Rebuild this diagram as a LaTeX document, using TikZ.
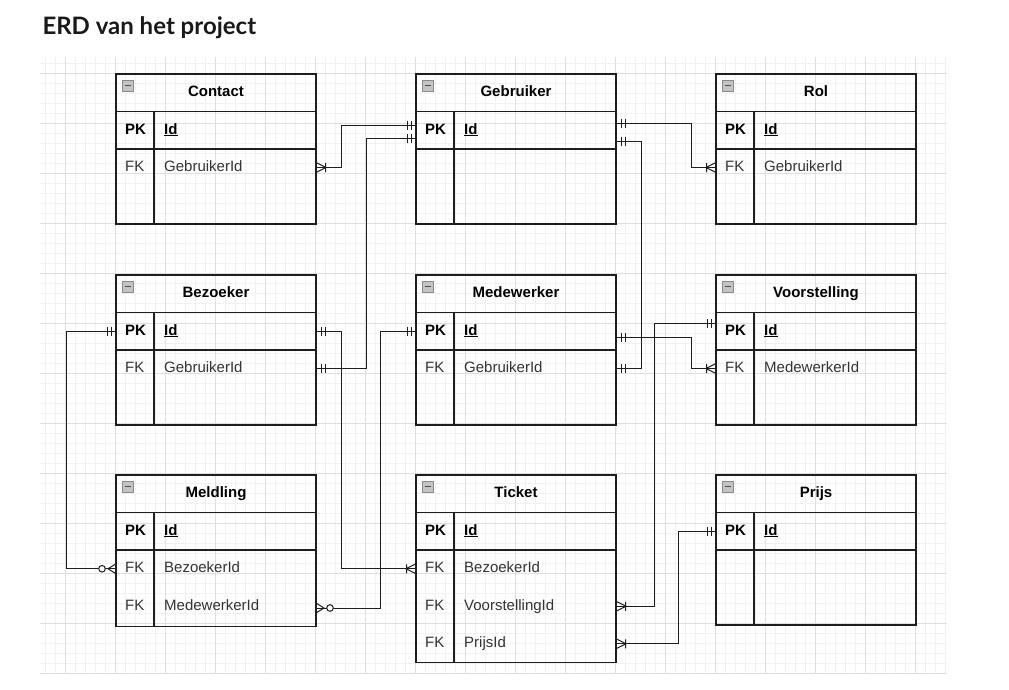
\documentclass[tikz,border=0pt]{standalone}
\usepackage{fontspec}
\setmainfont{Liberation Sans}
\newfontfamily\latofont{Lato}
\usetikzlibrary{calc}
\definecolor{gridminor}{HTML}{F1F1F1}
\definecolor{gridmajor}{HTML}{DEDEDE}
\definecolor{ink}{HTML}{1E1E1E}
\definecolor{txt}{HTML}{333333}
\definecolor{iconfill}{HTML}{C4C4C4}
\definecolor{iconline}{HTML}{8A8A8A}

\newcommand\ErdTable[5]{%
  \node[tbl, minimum height=#5pt, anchor=north west] (#1) at (#2,#3) {};
  \draw[tblline] ($(#1.north west)+(0,37.5)$) -- ($(#1.north east)+(0,37.5)$);
  \draw[tblline] ($(#1.north west)+(0,75)$) -- ($(#1.north east)+(0,75)$);
  \draw[tblline] ($(#1.north west)+(38,37.5)$) -- ($(#1.south west)+(38,0)$);
  \node[hdr] (#1-title) at ($(#1.north)+(0,22.7)$) {#4};
  \draw[iconbox] ($(#1.north west)+(6.5,6.7)$) rectangle +(10.5,10.5);
  \draw[icondash] ($(#1.north west)+(8.5,11.95)$) -- +(6.5,0);
}
\newcommand\ErdPK[1]{%
  \node[pkt] (#1-pk) at ($(#1.north west)+(9,60)$) {PK};
  \node[pkt] (#1-id) at ($(#1.north west)+(48,60)$) {\underline{Id}};
}
\newcommand\ErdFK[3]{%
  \node[fkt] (#1-fk#2) at ($(#1.north west)+(9,{60+37.5*#2})$) {FK};
  \node[fkt] (#1-f#2) at ($(#1.north west)+(48,{60+37.5*#2})$) {#3};
}

\begin{document}
\begin{tikzpicture}[x=1pt,y=-1pt,
  tbl/.style={draw=ink, line width=1.2pt, minimum width=200pt, inner sep=0pt, outer sep=0pt},
  tblline/.style={draw=ink, line width=1.2pt},
  hdr/.style={font=\fontsize{15}{18}\selectfont\bfseries, text=black, anchor=base, inner sep=0pt},
  pkt/.style={font=\fontsize{15}{18}\selectfont\bfseries, text=black, anchor=base west, inner sep=0pt},
  fkt/.style={font=\fontsize{15}{18}\selectfont, text=txt, anchor=base west, inner sep=0pt},
  iconbox/.style={draw=iconline, fill=iconfill, line width=0.8pt},
  icondash/.style={draw=black!70, line width=1pt},
  conn/.style={draw=ink, line width=1pt},
  mone/.pic={\draw[conn] (-5,-4.5) -- (-5,4.5) (-9,-4.5) -- (-9,4.5);},
  omany/.pic={\draw[conn] (0,-5) -- (-10,0) -- (0,5) (-9.5,-4.5) -- (-9.5,4.5);},
  zmany/.pic={\draw[conn] (0,-5) -- (-8,0) -- (0,5); \draw[conn, fill=white] (-14,0) circle (3.3);}
]
\useasboundingbox (0,0) rectangle (1009,689);
\fill[white] (0,0) rectangle (1009,689);

% grid
\begin{scope}
  \clip (40,57) rectangle (946.5,674);
  \foreach \i in {0,...,90} \draw[gridminor, line width=1pt] ({45.7+10*\i},57) -- ++(0,617);
  \foreach \j in {0,...,61} \draw[gridminor, line width=1pt] (40,{63.3+10*\j}) -- ++(907,0);
  \foreach \i in {0,...,17} \draw[gridmajor, line width=1pt] ({65.7+50*\i},57) -- ++(0,617);
  \foreach \j in {0,...,12} \draw[gridmajor, line width=1pt] (40,{73.3+50*\j}) -- ++(907,0);
\end{scope}

% title
\node[anchor=base west, inner sep=0pt, text=black!90, font=\latofont\bfseries\fontsize{24}{28}\selectfont] (title) at (42.3,34.3) {ERD van het project};

% tables
\ErdTable{contact}{116}{74}{Contact}{150}
\ErdPK{contact}\ErdFK{contact}{1}{GebruikerId}
\ErdTable{gebruiker}{416}{74}{Gebruiker}{150}
\ErdPK{gebruiker}
\ErdTable{rol}{716}{74}{Rol}{150}
\ErdPK{rol}\ErdFK{rol}{1}{GebruikerId}
\ErdTable{bezoeker}{116}{275}{Bezoeker}{150}
\ErdPK{bezoeker}\ErdFK{bezoeker}{1}{GebruikerId}
\ErdTable{medewerker}{416}{275}{Medewerker}{150}
\ErdPK{medewerker}\ErdFK{medewerker}{1}{GebruikerId}
\ErdTable{voorstelling}{716}{275}{Voorstelling}{150}
\ErdPK{voorstelling}\ErdFK{voorstelling}{1}{MedewerkerId}
\ErdTable{meldling}{116}{475}{Meldling}{151.5}
\ErdPK{meldling}\ErdFK{meldling}{1}{BezoekerId}\ErdFK{meldling}{2}{MedewerkerId}
\ErdTable{ticket}{416}{475}{Ticket}{187.5}
\ErdPK{ticket}\ErdFK{ticket}{1}{BezoekerId}\ErdFK{ticket}{2}{VoorstellingId}\ErdFK{ticket}{3}{PrijsId}
\ErdTable{prijs}{716}{475}{Prijs}{150}
\ErdPK{prijs}

% ports
\coordinate (c1a) at ($(contact.north east)+(0,93.5)$);
\coordinate (c1b) at ($(gebruiker.north west)+(0,51)$);
\coordinate (c2a) at ($(bezoeker.north east)+(0,93.5)$);
\coordinate (c2b) at ($(gebruiker.north west)+(0,64)$);
\coordinate (c3a) at ($(gebruiker.north east)+(0,49)$);
\coordinate (c3b) at ($(rol.north west)+(0,93.5)$);
\coordinate (c4a) at ($(gebruiker.north east)+(0,67)$);
\coordinate (c4b) at ($(medewerker.north east)+(0,93.5)$);
\coordinate (c5a) at ($(medewerker.north east)+(0,62.7)$);
\coordinate (c5b) at ($(voorstelling.north west)+(0,93.5)$);
\coordinate (c6a) at ($(voorstelling.north west)+(0,48.3)$);
\coordinate (c6b) at ($(ticket.north east)+(0,131.25)$);
\coordinate (c7a) at ($(prijs.north west)+(0,56)$);
\coordinate (c7b) at ($(ticket.north east)+(0,168.75)$);
\coordinate (c8a) at ($(bezoeker.north west)+(0,56)$);
\coordinate (c8b) at ($(meldling.north west)+(0,93.75)$);
\coordinate (c9a) at ($(bezoeker.north east)+(0,56)$);
\coordinate (c9b) at ($(ticket.north west)+(0,93.75)$);
\coordinate (c10a) at ($(medewerker.north west)+(0,56)$);
\coordinate (c10b) at ($(meldling.north east)+(0,133)$);

% connectors
\draw[conn] (c1a) -- ++(25.7,0) |- (c1b);
\draw[conn] (c2a) -- ++(50.7,0) |- (c2b);
\draw[conn] (c3a) -- ++(75.7,0) |- (c3b);
\draw[conn] (c4a) -- ++(25.7,0) |- (c4b);
\draw[conn] (c5a) -- ++(75.7,0) |- (c5b);
\draw[conn] (c6a) -- ++(-62,0) |- (c6b);
\draw[conn] (c7a) -- ++(-37.3,0) |- (c7b);
\draw[conn] (c8a) -- ++(-50,0) |- (c8b);
\draw[conn] (c9a) -- ++(25.7,0) |- (c9b);
\draw[conn] (c10a) -- ++(-36,0) |- (c10b);

% markers
\pic[xscale=-1] at (c1a) {omany};
\pic at (c1b) {mone};
\pic[xscale=-1] at (c2a) {mone};
\pic at (c2b) {mone};
\pic[xscale=-1] at (c3a) {mone};
\pic at (c3b) {omany};
\pic[xscale=-1] at (c4a) {mone};
\pic[xscale=-1] at (c4b) {mone};
\pic[xscale=-1] at (c5a) {mone};
\pic at (c5b) {omany};
\pic at (c6a) {mone};
\pic[xscale=-1] at (c6b) {omany};
\pic at (c7a) {mone};
\pic[xscale=-1] at (c7b) {omany};
\pic at (c8a) {mone};
\pic at (c8b) {zmany};
\pic[xscale=-1] at (c9a) {mone};
\pic at (c9b) {omany};
\pic at (c10a) {mone};
\pic[xscale=-1] at (c10b) {zmany};
\end{tikzpicture}
\end{document}
